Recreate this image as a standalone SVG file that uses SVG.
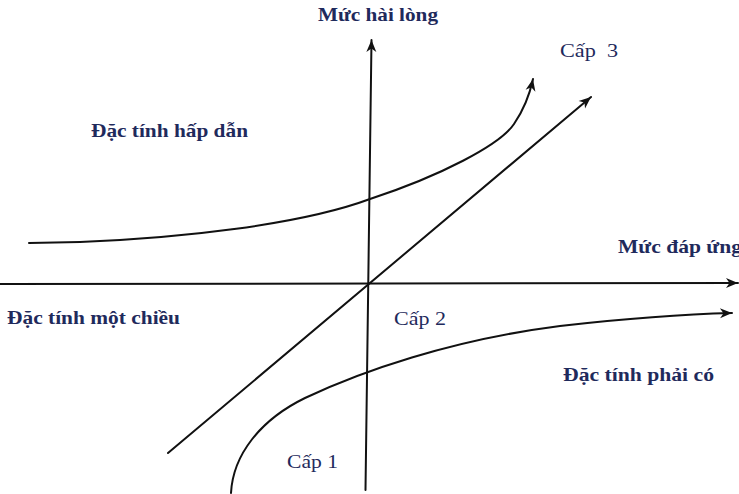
<svg xmlns="http://www.w3.org/2000/svg" width="739" height="494" viewBox="0 0 739 494">
<style>
.t{font-family:"Liberation Serif","Times New Roman",serif;font-size:19px;fill:#1f2a5c;font-weight:bold}
.c{font-family:"Liberation Serif","Times New Roman",serif;font-size:18px;fill:#1f2a5c}
.ln{fill:none;stroke:#111;stroke-width:2;stroke-linecap:round}
</style>
<defs>
<marker id="arr" markerUnits="userSpaceOnUse" markerWidth="14" markerHeight="12" refX="12" refY="5" orient="auto" overflow="visible">
<path d="M0,0 L12,5 L0,10 L3.5,5 Z" fill="#111"/>
</marker>
</defs>
<rect width="739" height="494" fill="#fff"/>
<g id="connectors">
<line id="axis-y" class="ln" x1="365.5" y1="490" x2="371.5" y2="40" marker-end="url(#arr)"/>
<line id="axis-x" class="ln" x1="0" y1="284" x2="738" y2="283" marker-end="url(#arr)"/>
<line id="cap3" class="ln" x1="168" y1="453" x2="591" y2="97" marker-end="url(#arr)"/>
<path id="hap-dan" class="ln" d="M29,243 L80,242 C180,238 300,225 370,199 C440,176 500,145 514,124 C525,108 530,93 533,79" marker-end="url(#arr)"/>
<path id="phai-co" class="ln" d="M231,493 C233,455 260,420 305,398 C360,372 450,340 560,326 C630,318 690,314 732,313" marker-end="url(#arr)"/>
</g>
<g id="label-muc-hai-long"><text class="t" x="318" y="21" textLength="120" lengthAdjust="spacingAndGlyphs">Mức hài lòng</text></g>
<g id="label-cap3"><text class="c" x="560" y="57" textLength="58" lengthAdjust="spacingAndGlyphs" xml:space="preserve">Cấp  3</text></g>
<g id="label-hap-dan"><text class="t" x="91" y="137" textLength="157" lengthAdjust="spacingAndGlyphs">Đặc tính hấp dẫn</text></g>
<g id="label-muc-dap-ung"><text class="t" x="618" y="253" textLength="124" lengthAdjust="spacingAndGlyphs">Mức đáp ứng</text></g>
<g id="label-mot-chieu"><text class="t" x="7" y="324" textLength="173" lengthAdjust="spacingAndGlyphs">Đặc tính một chiều</text></g>
<g id="label-cap2"><text class="c" x="394" y="325" textLength="52" lengthAdjust="spacingAndGlyphs">Cấp 2</text></g>
<g id="label-phai-co"><text class="t" x="563" y="381" textLength="151" lengthAdjust="spacingAndGlyphs">Đặc tính phải có</text></g>
<g id="label-cap1"><text class="c" x="287" y="468" textLength="51" lengthAdjust="spacingAndGlyphs">Cấp 1</text></g>
</svg>
